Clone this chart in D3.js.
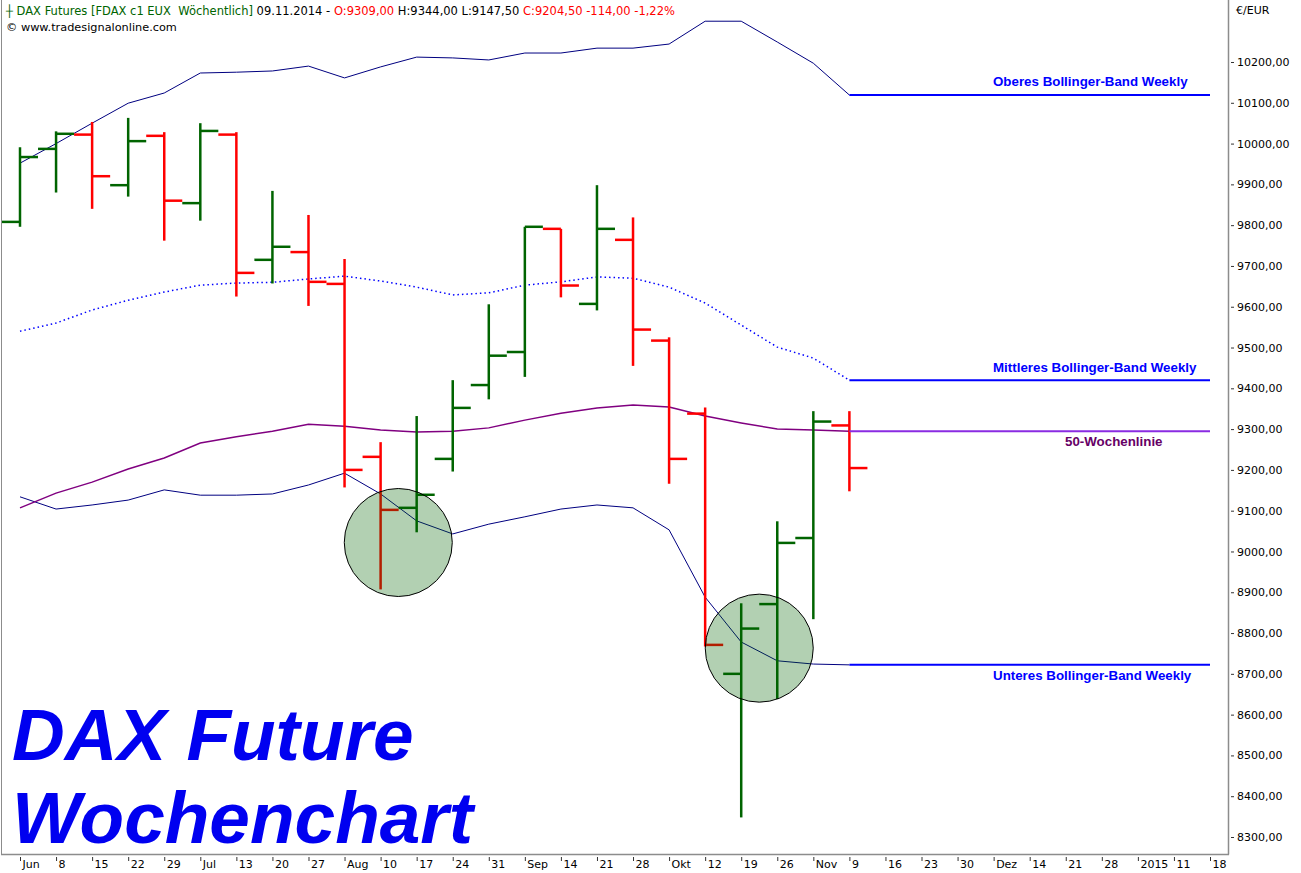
<!DOCTYPE html>
<html><head><meta charset="utf-8">
<script src="https://cdn.jsdelivr.net/npm/d3@7"></script>
<style>
html,body{margin:0;padding:0;background:#fff;}
svg{display:block;}
</style></head><body>
<svg id="chart" width="1301" height="873"></svg>
<script>
// ---------- data ----------
const weekLabels = ["Jun","8","15","22","29","Jul","13","20","27","Aug","10","17","24","31","Sep","14","21","28","Okt","12","19","26","Nov","9","16","23","30","Dez","14","21","28","2015","11","18"];
const barWeeks = ["01.06.2014","08.06.2014","15.06.2014","22.06.2014","29.06.2014","06.07.2014","13.07.2014","20.07.2014","27.07.2014","03.08.2014","10.08.2014","17.08.2014","24.08.2014","31.08.2014","07.09.2014","14.09.2014","21.09.2014","28.09.2014","05.10.2014","12.10.2014","19.10.2014","26.10.2014","02.11.2014","09.11.2014"];
const openVals  = [9808, 9987, 10022, 9898, 10019, 9854, 10022, 9715, 9734, 9656, 9232, 9107, 9227, 9408, 9489, 9791, 9607, 9764, 9517, 9338, 8700, 8871, 9033, 9309];
const highVals  = [9991, 10030, 10053, 10063, 10028, 10050, 10028, 9884, 9825, 9717, 9268, 9332, 9420, 9606, 9796, 9791, 9898, 9819, 9525, 9353, 8873, 9074, 9344, 9344];
const lowVals   = [9796, 9880, 9840, 9870, 9762, 9811, 9625, 9657, 9602, 9157, 8907, 9047, 9196, 9373, 9428, 9623, 9591, 9455, 9166, 8767, 8348, 8638, 8834, 9147.5];
const closeVals = [9967, 10024, 9920, 10006, 9860, 10031, 9683, 9747, 9661, 9200, 9102, 9139, 9352, 9480, 9796, 9652, 9791, 9544, 9227, 8771, 8811, 9021, 9318.5, 9204.5];
const upperBand = [9952, 10000, 10050, 10099, 10124, 10173, 10175, 10178, 10190, 10161, 10188, 10212, 10210, 10205, 10222, 10222, 10234, 10234, 10244, 10300, 10300, 10249, 10197, 10119];
const middleBand = [9540, 9560, 9592, 9616, 9636, 9653, 9658, 9660, 9668, 9675, 9663, 9648, 9629, 9634, 9653, 9661, 9673, 9670, 9648, 9609, 9555, 9501, 9474, 9420];
const lowerBand = [9134, 9104, 9114, 9126, 9151, 9138, 9138, 9141, 9163, 9192, 9141, 9075, 9043, 9067, 9085, 9104, 9114, 9107, 9053, 8888, 8778, 8732, 8724, 8722];
const ma50 = [9107, 9143, 9170, 9202, 9229, 9266, 9281, 9295, 9312, 9307, 9298, 9293, 9295, 9303, 9322, 9339, 9352, 9359, 9354, 9332, 9315, 9300, 9298, 9295];
const yTicks = d3.range(8300, 10201, 100);
const circleWeeks = [10.49, 20.5];
const circleValues = [9022, 8763];
const bandLabels = ["Oberes Bollinger-Band Weekly", "Mittleres Bollinger-Band Weekly", "50-Wochenlinie", "Unteres Bollinger-Band Weekly"];
const titleLines = ["DAX Future", "Wochenchart"];

// ---------- setup ----------
const svg = d3.select("#chart");
const x = d3.scaleLinear().domain([0, weekLabels.length - 1]).range([20, 1210]);
const y = d3.scaleLinear().domain([8300, 10200]).range([837, 62]);
const half = (x(1) - x(0)) / 2;
const fmt2 = d3.formatLocale({decimal: ",", thousands: ".", grouping: [3], currency: ["", "€"], minus: "-"}).format(".2f");
const frame = "#8c8c8c";

// frame
svg.append("line").attr("x1", 1.5).attr("x2", 1.5).attr("y1", 0).attr("y2", 854).attr("stroke", frame);
svg.append("line").attr("x1", 1228.5).attr("x2", 1228.5).attr("y1", 0).attr("y2", 854.5).attr("stroke", frame).attr("stroke-width", 1.5);
svg.append("line").attr("x1", 1).attr("x2", 1229).attr("y1", 854.5).attr("y2", 854.5).attr("stroke", frame).attr("stroke-width", 1.5);

// y axis
const yAxis = svg.append("g").attr("transform", "translate(1231,0)")
  .call(d3.axisRight(y).tickValues(yTicks).tickSize(3).tickPadding(3).tickFormat(fmt2));
yAxis.select(".domain").remove();
yAxis.selectAll("text").attr("font-family", "DejaVu Sans").attr("font-size", 11).attr("fill", "#000");
yAxis.selectAll("line").attr("stroke", "#333");
svg.append("text").attr("x", 1236).attr("y", 14).text("€/EUR")
  .attr("font-family", "DejaVu Sans").attr("font-size", 11).attr("fill", "#000");

// x axis
const xAxis = svg.append("g").attr("transform", "translate(0,857)")
  .call(d3.axisBottom(x).tickValues(d3.range(weekLabels.length)).tickSize(4).tickFormat(i => weekLabels[i]));
xAxis.select(".domain").remove();
xAxis.selectAll("line").attr("stroke", "#333");
xAxis.selectAll("text").attr("font-family", "DejaVu Sans").attr("font-size", 11).attr("fill", "#000")
  .attr("text-anchor", "start").attr("dx", 2).attr("y", 1).attr("dy", "0.95em");

// lines
const idx = d3.range(barWeeks.length);
const lineGen = arr => d3.line().x(i => x(i)).y(i => y(arr[i]))(idx);
svg.append("path").attr("d", lineGen(upperBand)).attr("fill", "none").attr("stroke", "#000080").attr("stroke-width", 1);
svg.append("path").attr("d", lineGen(lowerBand)).attr("fill", "none").attr("stroke", "#000080").attr("stroke-width", 1);
svg.append("path").attr("d", lineGen(middleBand)).attr("fill", "none").attr("stroke", "#0000ff").attr("stroke-width", 1.5).attr("stroke-dasharray", "1.5,3");
svg.append("path").attr("d", lineGen(ma50)).attr("fill", "none").attr("stroke", "#800080").attr("stroke-width", 1.5);

// OHLC bars
const bars = svg.append("g");
idx.forEach(i => {
  const col = closeVals[i] >= openVals[i] ? "#006400" : "#ff0000";
  const g = bars.append("g").attr("stroke", col).attr("stroke-width", 2.5);
  g.append("line").attr("x1", x(i)).attr("x2", x(i)).attr("y1", y(highVals[i])).attr("y2", y(lowVals[i]));
  g.append("line").attr("x1", x(i) - half).attr("x2", x(i)).attr("y1", y(openVals[i])).attr("y2", y(openVals[i]));
  g.append("line").attr("x1", x(i)).attr("x2", x(i) + half).attr("y1", y(closeVals[i])).attr("y2", y(closeVals[i]));
});

// circles
circleWeeks.forEach((w, k) => {
  svg.append("circle").attr("cx", x(w)).attr("cy", y(circleValues[k])).attr("r", 54)
    .attr("fill", "rgba(0,100,0,0.3)").attr("stroke", "#000").attr("stroke-width", 1);
});

// extension lines
const last = barWeeks.length - 1, end = weekLabels.length - 1;
[[upperBand, "#0000ff"], [middleBand, "#0000ff"], [lowerBand, "#0000ff"], [ma50, "#8a2be2"]].forEach(([arr, c]) => {
  svg.append("line").attr("x1", x(last)).attr("x2", x(end)).attr("y1", y(arr[last])).attr("y2", y(arr[last]))
    .attr("stroke", c).attr("stroke-width", 2);
});

// labels
const lab = (t, xx, yy, c) => svg.append("text").attr("x", xx).attr("y", yy).text(t)
  .attr("font-family", "Liberation Sans").attr("font-weight", "bold").attr("font-size", 13.33).attr("fill", c);
lab(bandLabels[0], 993, y(upperBand[last]) - 9, "#0000ff");
lab(bandLabels[1], 993, y(middleBand[last]) - 8, "#0000ff");
lab(bandLabels[2], 1065, y(ma50[last]) + 15, "#660066");
lab(bandLabels[3], 993, y(lowerBand[last]) + 15, "#0000ff");

// title
titleLines.forEach((t, k) => {
  svg.append("text").attr("x", 12).attr("y", 760 + k * 83).text(t)
    .attr("font-family", "Liberation Sans").attr("font-weight", "bold").attr("font-style", "italic")
    .attr("font-size", 73).attr("fill", "#0000f0");
});

// header
const prevClose = closeVals[last - 1];
const chg = closeVals[last] - prevClose;
const h = svg.append("text").attr("x", 6).attr("y", 15).attr("font-family", "DejaVu Sans").attr("font-size", 11.5);
h.append("tspan").attr("fill", "#006400").text("┼ DAX Futures [FDAX c1 EUX\u00a0\u00a0Wöchentlich] ");
h.append("tspan").attr("fill", "#000").text(barWeeks[last] + " - ");
h.append("tspan").attr("fill", "#ff0000").text("O:" + fmt2(openVals[last]) + " ");
h.append("tspan").attr("fill", "#000").text("H:" + fmt2(highVals[last]) + " L:" + fmt2(lowVals[last]) + " ");
h.append("tspan").attr("fill", "#ff0000").text("C:" + fmt2(closeVals[last]) + " " + fmt2(chg) + " " + fmt2(chg / prevClose * 100) + "%");
svg.append("text").attr("x", 6).attr("y", 31).attr("font-family", "DejaVu Sans").attr("font-size", 11.3).attr("fill", "#000")
  .text("© www.tradesignalonline.com");
</script>
</body></html>
